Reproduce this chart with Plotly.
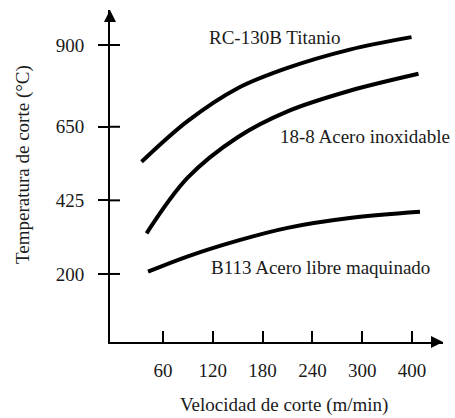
import plotly.graph_objects as go

# Tick positions (equally spaced categories on the speed axis) and labels
x_tick_pos = [1, 2, 3, 4, 5, 6]
x_tick_text = ["60", "120", "180", "240", "300", "400"]
y_ticks = [200, 425, 650, 900]

# Curves (x in tick-position units, y = temperature °C)
ti_x = [0.57, 1.5, 2.5, 3.5, 4.75, 5.99]
ti_y = [543, 668, 768, 830, 886, 924]

inox_x = [0.67, 1.5, 2.5, 3.5, 4.75, 6.13]
inox_y = [324, 495, 618, 697, 760, 812]

b113_x = [0.70, 1.5, 2.5, 3.5, 4.75, 6.16]
b113_y = [207, 254, 302, 341, 371, 390]

labels = ["RC-130B Titanio", "18-8 Acero inoxidable", "B113 Acero libre maquinado"]
label_x = [3.23, 5.06, 4.16]
label_y = [922, 619, 221]

FONT = "Liberation Serif, Times New Roman, serif"
TXT = "#1a1a1a"

L, R, T, B = 110, 12, 10, 76
W, H = 455, 418
pw, ph = W - L - R, H - T - B

fig = go.Figure()
for xs, ys in [(ti_x, ti_y), (inox_x, inox_y), (b113_x, b113_y)]:
    fig.add_trace(go.Scatter(x=xs, y=ys, mode="lines",
                             line=dict(color="black", width=4, shape="spline", smoothing=1.0),
                             showlegend=False, hoverinfo="skip"))

annotations = []
for t, lx, ly in zip(labels, label_x, label_y):
    annotations.append(dict(x=lx, y=ly, xref="x", yref="y", text=t, showarrow=False,
                            font=dict(family=FONT, size=19, color=TXT),
                            xanchor="center", yanchor="middle"))

# axis arrowheads
annotations.append(dict(x=0, y=1, xref="paper", yref="paper", ax=0, ay=12,
                        axref="pixel", ayref="pixel", text="", showarrow=True,
                        arrowhead=2, arrowsize=1.2, arrowwidth=2, arrowcolor="black", standoff=0))
annotations.append(dict(x=1, y=0, xref="paper", yref="paper", ax=-12, ay=0,
                        axref="pixel", ayref="pixel", text="", showarrow=True,
                        arrowhead=2, arrowsize=1.2, arrowwidth=2, arrowcolor="black", standoff=0))

# axis titles (positioned by pixel -> paper)
annotations.append(dict(x=(23 - L) / pw, y=(H - B - 165) / ph, xref="paper", yref="paper",
                        text="Temperatura de corte (°C)", showarrow=False, textangle=-90,
                        xanchor="center", yanchor="middle",
                        font=dict(family=FONT, size=19, color=TXT)))
annotations.append(dict(x=(284 - L) / pw, y=(H - B - 405) / ph, xref="paper", yref="paper",
                        text="Velocidad de corte (m/min)", showarrow=False,
                        xanchor="center", yanchor="middle",
                        font=dict(family=FONT, size=19, color=TXT)))

shapes = []
for v in y_ticks:
    shapes.append(dict(type="line", xref="paper", yref="y", xsizemode="pixel", xanchor=0,
                       x0=0, x1=10, y0=v, y1=v, line=dict(color="black", width=2)))

fig.update_layout(
    width=W, height=H,
    margin=dict(l=L, r=R, t=T, b=B),
    paper_bgcolor="white", plot_bgcolor="white",
    annotations=annotations, shapes=shapes,
    xaxis=dict(range=[-0.064, 6.622], tickvals=x_tick_pos, ticktext=x_tick_text,
               showgrid=False, zeroline=False, showline=True, linecolor="black", linewidth=2,
               ticks="inside", ticklen=11, tickwidth=2, tickcolor="black",
               ticklabelstandoff=10,
               tickfont=dict(family=FONT, size=19, color=TXT)),
    yaxis=dict(range=[-8, 1007], tickvals=y_ticks, ticktext=[str(v) for v in y_ticks],
               showgrid=False, zeroline=False, showline=True, linecolor="black", linewidth=2,
               ticks="outside", ticklen=10, tickwidth=2, tickcolor="black",
               ticklabelstandoff=10,
               tickfont=dict(family=FONT, size=19, color=TXT)),
)

fig.write_html("out.html", config={"displayModeBar": False},
               post_script="document.body.style.margin='0';")
